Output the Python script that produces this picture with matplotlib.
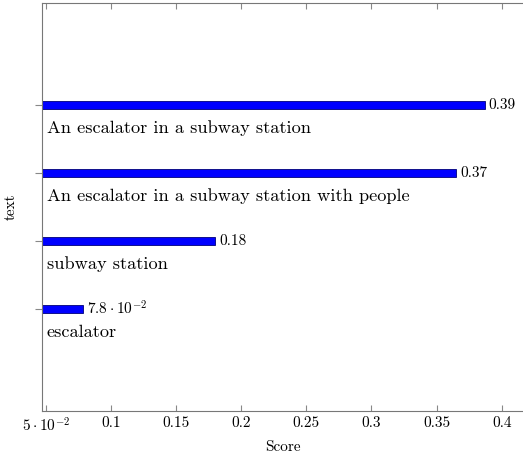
import matplotlib
matplotlib.use("Agg")
import matplotlib.pyplot as plt

plt.rcParams['font.family'] = 'serif'
plt.rcParams['font.serif'] = ['cmr10', 'DejaVu Serif']
plt.rcParams['mathtext.fontset'] = 'cm'
plt.rcParams['axes.formatter.use_mathtext'] = True

# données
labels = ["escalator", "subway station",
          "An escalator in a subway station with people",
          "An escalator in a subway station"]
scores = [0.0784, 0.180, 0.365, 0.387]
value_txt = [r"$7.8\cdot10^{-2}$", "0.18", "0.37", "0.39"]
xticks = [0.05, 0.1, 0.15, 0.2, 0.25, 0.3, 0.35, 0.4]
xtick_labels = [r"$5\cdot10^{-2}$", "0.1", "0.15", "0.2", "0.25", "0.3", "0.35", "0.4"]

xmin = 0.0472
fig = plt.figure(figsize=(5.23, 4.55), dpi=100)
ax = fig.add_axes([42 / 523, 44 / 455, 481 / 523, 408 / 455])

ypos = list(range(len(labels)))
widths = [s - xmin for s in scores]
ax.barh(ypos, widths, left=xmin, height=0.13, color='#0000ff',
        edgecolor='#00007a', linewidth=0.6)

for y, s, lab, vt in zip(ypos, scores, labels, value_txt):
    ax.text(s + 0.003, y, vt, va='center', ha='left', fontsize=11)
    ax.text(xmin + 0.0035, y - 0.34, lab, va='center', ha='left', fontsize=13.2)

ax.set_xlim(xmin, 0.4163)
ax.set_ylim(-1.5, 4.5)
ax.set_xticks(xticks)
ax.set_xticklabels(xtick_labels, fontsize=11)
ax.set_yticks(ypos)
ax.set_yticklabels([])
ax.tick_params(axis='x', direction='in', top=True, length=4, color='#888888', pad=4)
ax.tick_params(axis='y', direction='out', length=5, color='#888888')
for side in ['left', 'bottom', 'top']:
    ax.spines[side].set_color('#777777')
ax.spines['right'].set_visible(False)

ax.set_xlabel("Score", fontsize=11, labelpad=4)
ax.set_ylabel("text", fontsize=11, labelpad=9)

fig.savefig("out.png", dpi=100)
